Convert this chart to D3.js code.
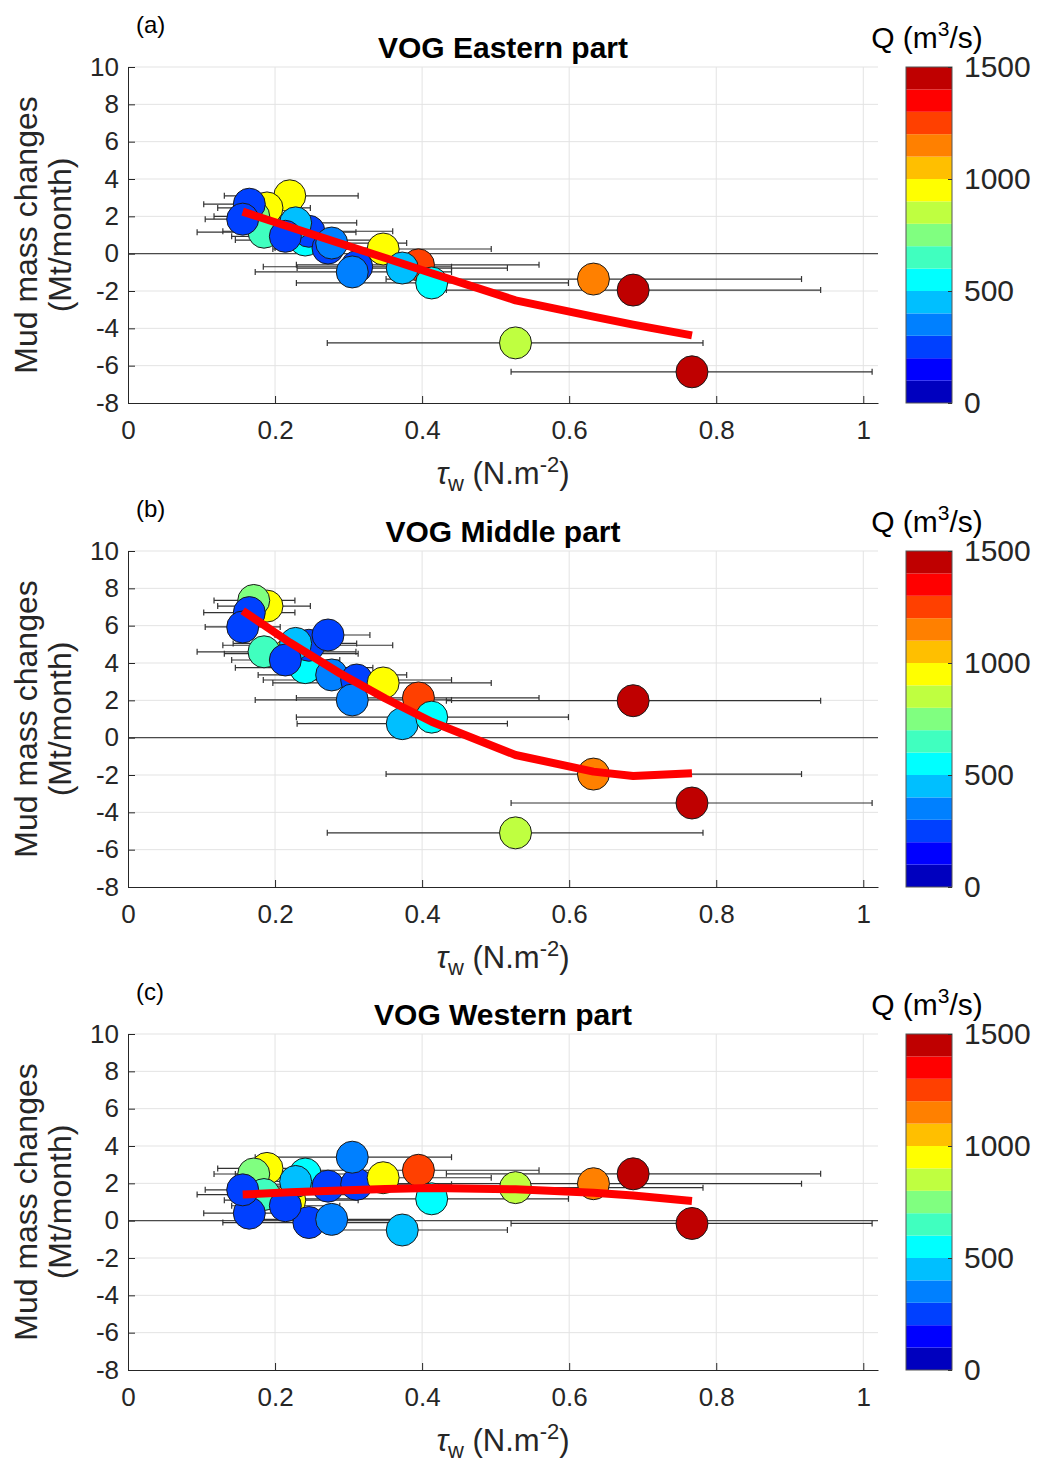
<!DOCTYPE html>
<html><head><meta charset="utf-8">
<script src="https://cdn.jsdelivr.net/npm/d3@7"></script>
<style>
body{margin:0;background:#fff}
text{font-family:"Liberation Sans",Arial,Helvetica,sans-serif}
</style>
</head><body>
<svg id="chart" width="1037" height="1466"></svg>
<script>
// ---------- data (draw order: back to front) ----------
const tau      = [0.220,0.189,0.171,0.185,0.241,0.246,0.228,0.165,0.156,0.214,0.272,0.277,0.311,0.305,0.347,0.395,0.373,0.413,0.527,0.633,0.687,0.767];
const tauLow   = [0.131,0.122,0.117,0.094,0.146,0.129,0.143,0.103,0.105,0.141,0.200,0.177,0.184,0.173,0.197,0.229,0.230,0.229,0.271,0.351,0.433,0.521];
const tauHigh  = [0.313,0.248,0.227,0.310,0.333,0.360,0.311,0.227,0.207,0.288,0.329,0.379,0.440,0.440,0.494,0.559,0.516,0.599,0.782,0.916,0.942,1.012];
const discharge= [960,940,750,650,560,250,450,260,240,270,230,350,280,330,970,1260,460,540,850,1150,1450,1480];
const massEast   = [3.1,2.45,2.0,1.15,0.73,1.2,1.65,2.65,1.85,0.93,0.3,0.57,-0.7,-0.98,0.25,-0.6,-0.77,-1.57,-4.78,-1.36,-1.95,-6.33];
const massMiddle = [4.5,7.05,7.35,4.6,3.75,4.95,5.05,6.7,5.93,4.16,5.5,3.36,3.09,2.02,2.93,2.13,0.75,1.1,-5.1,-1.95,1.98,-3.5];
const massWest   = [1.1,2.8,2.5,1.4,2.5,-0.1,2.1,0.4,1.65,0.8,1.85,0.07,1.95,3.4,2.3,2.7,-0.5,1.17,1.77,1.98,2.51,-0.15];

const fitX      = [0.156,0.22,0.288,0.35,0.413,0.527,0.633,0.687,0.767];
const fitEast   = [2.25,1.43,0.56,-0.23,-1.05,-2.5,-3.37,-3.8,-4.38];
const fitMiddle = [6.8,5.1,3.45,2.1,0.85,-0.93,-1.82,-2.05,-1.9];
const fitWest   = [1.4,1.52,1.62,1.7,1.75,1.68,1.5,1.35,1.05];

const xTicks  = [0,0.2,0.4,0.6,0.8,1];
const yTicks  = [-8,-6,-4,-2,0,2,4,6,8,10];
const cbTicks = [0,500,1000,1500];
const jetColors = ["#0000bf","#0000ff","#0040ff","#0080ff","#00bfff","#00ffff","#40ffbf","#80ff80",
                   "#bfff40","#ffff00","#ffbf00","#ff8000","#ff4000","#ff0000","#bf0000"];
const panelLabels = ["(a)","(b)","(c)"];
const panelTitles = ["VOG Eastern part","VOG Middle part","VOG Western part"];

// ---------- drawing ----------
const svg = d3.select("#chart");
svg.append("rect").attr("width",1037).attr("height",1466).attr("fill","#fff");
const panelTops = [67, 551, 1034];
const massSets = [massEast, massMiddle, massWest];
const fitSets = [fitEast, fitMiddle, fitWest];
const axisColor = "#262626";
const fontFam = '"Liberation Sans",Arial,sans-serif';

const x = d3.scaleLinear().domain([0,1.02]).range([128,878]);
const color = d3.scaleQuantize().domain([0,1500]).range(jetColors);

panelTops.forEach((top, pi) => {
  const g = svg.append("g");
  const y = d3.scaleLinear().domain([-8,10]).range([top+336, top]);
  const vals = massSets[pi];

  // grid
  g.append("g").selectAll("line").data(xTicks.filter(t => t > 0)).join("line")
    .attr("x1", d => x(d)).attr("x2", d => x(d)).attr("y1", y(-8)).attr("y2", y(10))
    .attr("stroke", "#e3e3e3").attr("stroke-width", 1);
  g.append("g").selectAll("line").data(yTicks.filter(t => t > -8)).join("line")
    .attr("x1", x(0)).attr("x2", x(1.02)).attr("y1", d => y(d)).attr("y2", d => y(d))
    .attr("stroke", "#e3e3e3").attr("stroke-width", 1);

  // zero line
  g.append("line").attr("x1", x(0)).attr("x2", x(1.02)).attr("y1", y(0)).attr("y2", y(0))
    .attr("stroke", "#4a4a4a").attr("stroke-width", 1.2);

  // axes
  const ya = g.append("g").attr("transform", "translate(128,0)")
    .call(d3.axisLeft(y).tickValues(yTicks).tickSize(-7).tickSizeOuter(0).tickPadding(9)
      .tickFormat(d => String(d)));
  const xa = g.append("g").attr("transform", `translate(0,${y(-8)})`)
    .call(d3.axisBottom(x).tickValues(xTicks).tickSize(-7).tickSizeOuter(0).tickPadding(18)
      .tickFormat(d => (d === 0 || d === 1) ? String(d) : d3.format(".1f")(d)));
  [ya, xa].forEach(a => {
    a.attr("font-size", 26).attr("font-family", fontFam);
    a.selectAll("path,line").attr("stroke", axisColor);
    a.selectAll("text").attr("fill", axisColor);
  });

  // error bars
  const eb = g.append("g").attr("stroke", "#333").attr("stroke-width", 1.2);
  tau.forEach((t, i) => {
    const yy = y(vals[i]);
    eb.append("line").attr("x1", x(tauLow[i])).attr("x2", x(tauHigh[i])).attr("y1", yy).attr("y2", yy);
    eb.append("line").attr("x1", x(tauLow[i])).attr("x2", x(tauLow[i])).attr("y1", yy-3).attr("y2", yy+3);
    eb.append("line").attr("x1", x(tauHigh[i])).attr("x2", x(tauHigh[i])).attr("y1", yy-3).attr("y2", yy+3);
  });

  // points
  g.append("g").selectAll("circle").data(tau).join("circle")
    .attr("cx", d => x(d)).attr("cy", (d, i) => y(vals[i])).attr("r", 16)
    .attr("fill", (d, i) => color(discharge[i]))
    .attr("stroke", "#1a1a1a").attr("stroke-width", 1);

  // fitted line
  const line = d3.line().x(d => x(d[0])).y(d => y(d[1]));
  g.append("path").datum(fitX.map((v, i) => [v, fitSets[pi][i]]))
    .attr("d", line).attr("fill", "none").attr("stroke", "#ff0000")
    .attr("stroke-width", 8).attr("stroke-linejoin", "round");

  // labels
  g.append("text").attr("x", 136).attr("y", top - 34).attr("font-size", 24).attr("fill", "#000")
    .text(panelLabels[pi]);
  g.append("text").attr("x", 503).attr("y", top - 9).attr("font-size", 30).attr("font-weight", "bold")
    .attr("text-anchor", "middle").attr("fill", "#000").text(panelTitles[pi]);

  const cy = y(1);
  g.append("text").attr("transform", `translate(37,${cy}) rotate(-90)`).attr("text-anchor", "middle")
    .attr("font-size", 32).attr("fill", axisColor).text("Mud mass changes");
  g.append("text").attr("transform", `translate(71,${cy}) rotate(-90)`).attr("text-anchor", "middle")
    .attr("font-size", 32).attr("fill", axisColor).text("(Mt/month)");

  const xt = g.append("text").attr("x", 503).attr("y", top + 417).attr("text-anchor", "middle")
    .attr("font-size", 31).attr("fill", axisColor);
  xt.append("tspan").attr("font-style", "italic").text("τ");
  xt.append("tspan").attr("font-size", 22).attr("dy", 7).text("w");
  xt.append("tspan").attr("dy", -7).text(" (N.m");
  xt.append("tspan").attr("font-size", 22).attr("dy", -12).text("-2");
  xt.append("tspan").attr("dy", 12).text(")");

  // colorbar
  const cb = d3.scaleLinear().domain([0,1500]).range([top+336, top]);
  const cbg = g.append("g");
  cbg.selectAll("rect").data(jetColors).join("rect")
    .attr("x", 906).attr("width", 46)
    .attr("y", (d, i) => cb(100*(i+1))).attr("height", (d, i) => cb(100*i) - cb(100*(i+1)))
    .attr("fill", d => d);
  cbg.append("rect").attr("x", 906).attr("y", top).attr("width", 46).attr("height", 336)
    .attr("fill", "none").attr("stroke", "#555").attr("stroke-width", 1);
  const ca = cbg.append("g").attr("transform", "translate(952,0)")
    .call(d3.axisRight(cb).tickValues(cbTicks).tickSize(-4).tickSizeOuter(0).tickPadding(12)
      .tickFormat(d => String(d)));
  ca.attr("font-size", 30).attr("font-family", fontFam);
  ca.select(".domain").remove();
  ca.selectAll("line").attr("stroke", "#333");
  ca.selectAll("text").attr("fill", axisColor);

  const qt = g.append("text").attr("x", 927).attr("y", top - 19).attr("text-anchor", "middle")
    .attr("font-size", 30).attr("fill", "#000");
  qt.append("tspan").text("Q (m");
  qt.append("tspan").attr("font-size", 21).attr("dy", -12).text("3");
  qt.append("tspan").attr("dy", 12).text("/s)");
});
</script>
</body></html>
